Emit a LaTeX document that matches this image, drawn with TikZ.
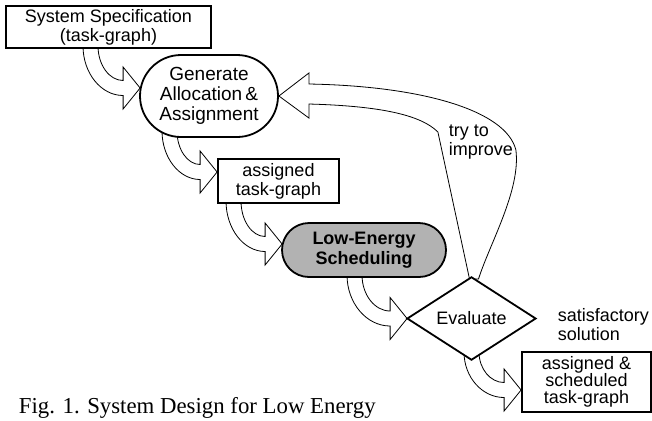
\documentclass[tikz,border=0pt]{standalone}
\usepackage{fontspec}
\setmainfont{Liberation Serif}
\setsansfont{Liberation Sans}
\usetikzlibrary{calc,shapes.geometric,backgrounds}

\tikzset{
  box/.style={draw,fill=white,align=center,inner sep=0pt,
    font=\sffamily\fontsize{9}{9.5}\selectfont},
  lbl/.style={align=left,inner sep=0pt,font=\sffamily\fontsize{9}{9.5}\selectfont},
  hollow/.style={draw,fill=white,line join=miter},
}
% fat hollow arrow: #1 top of the shaft, #2 tip
\newcommand{\hollowarrow}[2]{%
  \draw[hollow] let \p1=(#1), \p2=(#2) in
    ({\x1-3.75pt},\y1)
    .. controls ({\x1-3.75pt},{\y1+0.55*(\y2-3.75pt-\y1)})
            and ({\x2-8.5pt-0.55*(\x2-8.5pt-\x1+3.75pt)},{\y2-3.75pt}) .. ({\x2-8.5pt},{\y2-3.75pt})
    -- ({\x2-8.5pt},{\y2-10.5pt}) -- (\p2) -- ({\x2-8.5pt},{\y2+10.5pt}) -- ({\x2-8.5pt},{\y2+3.75pt})
    .. controls ({\x2-8.5pt-0.55*(\x2-8.5pt-\x1-3.75pt)},{\y2+3.75pt})
            and ({\x1+3.75pt},{\y1+0.55*(\y2+3.75pt-\y1)}) .. ({\x1+3.75pt},\y1)
    -- cycle;}

\begin{document}
\begin{tikzpicture}[x=0.5pt,y=-0.5pt,line width=0.9pt]
    \useasboundingbox (0,0) rectangle (652,420);

    \node[box,minimum width=102.5pt,minimum height=21pt] (spec) at (108.5,27) {System Specification\\(task-graph)};
    \node[box,rounded corners=20.5pt,minimum width=69pt,minimum height=41pt,
      font=\sffamily\fontsize{9.5}{10}\selectfont] (gen) at (209,96) {Generate\\Allocation\,\&\\Assignment};
    \node[box,minimum width=60.5pt,minimum height=22pt] (asg) at (278.5,181) {assigned\\task-graph};
    \node[box,fill=gray!60,rounded corners=13.5pt,minimum width=82pt,minimum height=27pt,
      font=\sffamily\bfseries\fontsize{9}{10}\selectfont] (les) at (364,250) {Low-Energy\\Scheduling};
    \node[box,diamond,minimum width=64.5pt,minimum height=35.5pt] (eval) at (471.5,318.5) {Evaluate};
    \node[box,minimum width=64.5pt,minimum height=30pt,
      font=\sffamily\fontsize{9}{8.5}\selectfont] (done) at (586.5,382) {assigned \&\\scheduled\\task-graph};

    \node[lbl,anchor=north west] (try) at (448,124) {try to\\improve};
    \node[lbl,anchor=north west] (sat) at (557,308) {satisfactory\\solution};
    \node[anchor=base west,inner sep=0pt,font=\fontsize{11.4}{13}\selectfont] (cap) at (18,413) {Fig. 1. System Design for Low Energy};

    \begin{scope}[on background layer]
    \hollowarrow{$(spec.south)+(-18,-3)$}{$(gen.west)+(1,-8)$}
    \hollowarrow{$(gen.south)+(-39.5,-7)$}{$(asg.west)+(0,-9)$}
    \hollowarrow{$(asg.south)+(-45,-3)$}{$(les.west)+(1,-6)$}
    \hollowarrow{$(les.south)+(-9.5,-3)$}{$(eval.west)+(1,0)$}
    \hollowarrow{$(eval.south)+(0,-9)$}{$(done.west)+(0,8)$}
    % feedback loop
    \draw[hollow] ($(eval.north)+(-2,3)$) -- ($(gen.east)+(159,36)$)
      .. controls +(-17,-17) and +(72,2) .. ($(gen.east)+(30,8)$)
      -- ($(gen.east)+(30,22)$) -- (gen.east) -- ($(gen.east)+(30,-23)$) -- ($(gen.east)+(30,-12)$)
      .. controls +(112,2) and +(-10,-40) .. ($(gen.east)+(237,54)$)
      .. controls +(5,40) and +(11.5,-36) .. ($(eval.north)+(7,3)$) -- cycle;
    \end{scope}
\end{tikzpicture}
\end{document}
